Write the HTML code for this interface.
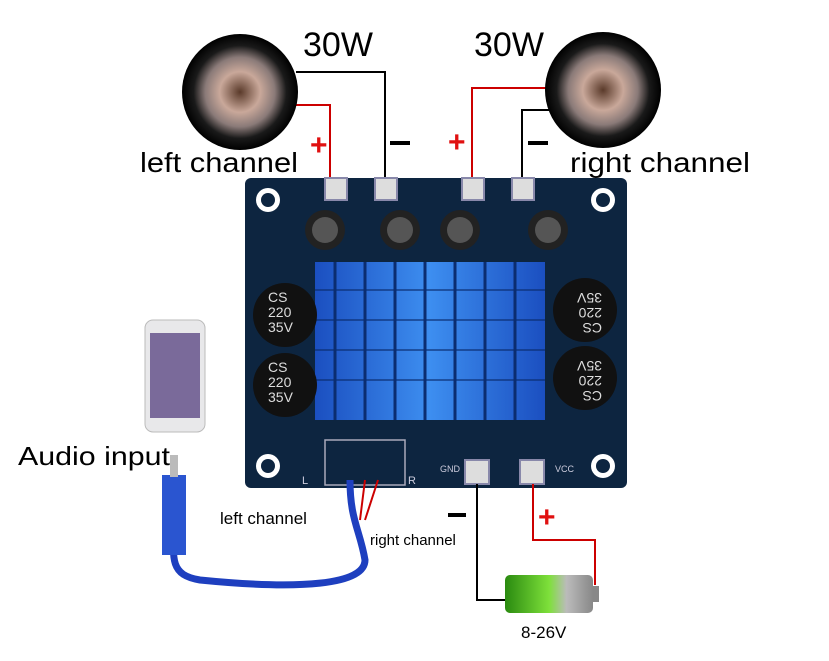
<!DOCTYPE html>
<html><head><meta charset="utf-8"><style>
html,body{margin:0;padding:0;background:#fff;}
svg{display:block;}
text{font-family:"Liberation Sans",sans-serif;}
</style></head><body>
<svg width="829" height="661" viewBox="0 0 829 661" xmlns="http://www.w3.org/2000/svg">
<defs>
<radialGradient id="spk" cx="50%" cy="50%" r="50%">
<stop offset="0" stop-color="#5a3a2a"/><stop offset="0.35" stop-color="#c9a89a"/><stop offset="0.6" stop-color="#8a7a78"/><stop offset="0.8" stop-color="#1a1a1a"/><stop offset="1" stop-color="#000"/>
</radialGradient>
<linearGradient id="hs" x1="0" x2="1"><stop offset="0" stop-color="#1b4fc0"/><stop offset="0.5" stop-color="#3d8ef0"/><stop offset="1" stop-color="#1b4fc0"/></linearGradient>
<linearGradient id="bat" x1="0" x2="1"><stop offset="0" stop-color="#2a8a10"/><stop offset="0.5" stop-color="#7ee03a"/><stop offset="0.7" stop-color="#bbb"/><stop offset="1" stop-color="#888"/></linearGradient>
</defs>
<polyline points="330,185 330,105 288,105" fill="none" stroke="#c00" stroke-width="2"/>
<polyline points="385,185 385,72 296,72" fill="none" stroke="#000" stroke-width="2"/>
<polyline points="472,185 472,88 548,88" fill="none" stroke="#c00" stroke-width="2"/>
<polyline points="522,185 522,110 560,110" fill="none" stroke="#000" stroke-width="2"/>
<circle cx="240" cy="92" r="58" fill="url(#spk)"/>
<circle cx="603" cy="90" r="58" fill="url(#spk)"/>
<text x="303" y="56" font-size="34">30W</text>
<text x="474" y="56" font-size="34">30W</text>
<text x="140" y="172" font-size="28" textLength="158" lengthAdjust="spacingAndGlyphs">left channel</text>
<text x="570" y="172" font-size="28" textLength="180" lengthAdjust="spacingAndGlyphs">right channel</text>
<text x="310" y="155" font-size="30" fill="#e01010" font-weight="bold">+</text>
<text x="448" y="152" font-size="30" fill="#e01010" font-weight="bold">+</text>
<rect x="390" y="141" width="20" height="4" fill="#000"/>
<rect x="528" y="141" width="20" height="4" fill="#000"/>
<rect x="245" y="178" width="382" height="310" rx="6" fill="#0d2540"/>
<g fill="#fff"><circle cx="268" cy="200" r="12"/><circle cx="603" cy="200" r="12"/><circle cx="268" cy="466" r="12"/><circle cx="603" cy="466" r="12"/></g>
<g fill="#0d2540"><circle cx="268" cy="200" r="7"/><circle cx="603" cy="200" r="7"/><circle cx="268" cy="466" r="7"/><circle cx="603" cy="466" r="7"/></g>
<g fill="#ddd" stroke="#88a" stroke-width="2"><rect x="325" y="178" width="22" height="22"/><rect x="375" y="178" width="22" height="22"/><rect x="462" y="178" width="22" height="22"/><rect x="512" y="178" width="22" height="22"/><rect x="465" y="460" width="24" height="24"/><rect x="520" y="460" width="24" height="24"/></g>
<g fill="#222"><circle cx="325" cy="230" r="20"/><circle cx="400" cy="230" r="20"/><circle cx="460" cy="230" r="20"/><circle cx="548" cy="230" r="20"/></g>
<g fill="#555"><circle cx="325" cy="230" r="13"/><circle cx="400" cy="230" r="13"/><circle cx="460" cy="230" r="13"/><circle cx="548" cy="230" r="13"/></g>
<rect x="315" y="262" width="230" height="158" fill="url(#hs)"/>
<g stroke="#0b2d70" stroke-width="3">
<line x1="335" y1="262" x2="335" y2="420"/><line x1="365" y1="262" x2="365" y2="420"/><line x1="395" y1="262" x2="395" y2="420"/><line x1="425" y1="262" x2="425" y2="420"/><line x1="455" y1="262" x2="455" y2="420"/><line x1="485" y1="262" x2="485" y2="420"/><line x1="515" y1="262" x2="515" y2="420"/>
</g>
<g stroke="#0b2d70" stroke-width="2" opacity="0.6">
<line x1="315" y1="290" x2="545" y2="290"/><line x1="315" y1="320" x2="545" y2="320"/><line x1="315" y1="350" x2="545" y2="350"/><line x1="315" y1="380" x2="545" y2="380"/>
</g>
<g fill="#111"><circle cx="285" cy="315" r="32"/><circle cx="285" cy="385" r="32"/><circle cx="585" cy="310" r="32"/><circle cx="585" cy="378" r="32"/></g>
<g fill="#ddd" font-size="14" font-family="Liberation Serif">
<text x="268" y="302">CS</text><text x="268" y="317">220</text><text x="268" y="332">35V</text>
<text x="268" y="372">CS</text><text x="268" y="387">220</text><text x="268" y="402">35V</text>
<g transform="rotate(180 585 310)"><text x="568" y="297">CS</text><text x="568" y="312">220</text><text x="568" y="327">35V</text></g>
<g transform="rotate(180 585 378)"><text x="568" y="365">CS</text><text x="568" y="380">220</text><text x="568" y="395">35V</text></g>
</g>
<rect x="325" y="440" width="80" height="45" fill="none" stroke="#aab" stroke-width="1.5"/>
<text x="302" y="484" font-size="11" fill="#ccd">L</text><text x="408" y="484" font-size="11" fill="#ccd">R</text>
<text x="440" y="472" font-size="9" fill="#ccd">GND</text><text x="555" y="472" font-size="9" fill="#ccd">VCC</text>
<polyline points="477,484 477,600 505,600" fill="none" stroke="#000" stroke-width="2"/>
<polyline points="533,484 533,540 595,540 595,585" fill="none" stroke="#c00" stroke-width="2"/>
<rect x="448" y="513" width="18" height="4" fill="#000"/>
<text x="538" y="527" font-size="30" fill="#e01010" font-weight="bold">+</text>
<rect x="505" y="575" width="88" height="38" rx="5" fill="url(#bat)"/>
<rect x="593" y="586" width="6" height="16" fill="#888"/>
<text x="521" y="638" font-size="17">8-26V</text>
<path d="M350,480 C350,520 360,530 365,560 C365,585 300,590 200,580 C170,575 172,560 175,520" fill="none" stroke="#1e3fbf" stroke-width="7"/>
<line x1="365" y1="480" x2="360" y2="520" stroke="#c00" stroke-width="2"/>
<line x1="378" y1="480" x2="365" y2="520" stroke="#c00" stroke-width="2"/>
<rect x="162" y="475" width="24" height="80" fill="#2a55d0"/>
<rect x="170" y="455" width="8" height="22" fill="#bbb"/>
<text x="18" y="465" font-size="26" textLength="152" lengthAdjust="spacingAndGlyphs">Audio input</text>
<text x="220" y="524" font-size="17">left channel</text>
<text x="370" y="545" font-size="15">right channel</text>
<rect x="145" y="320" width="60" height="112" rx="8" fill="#e8e8ea" stroke="#bbb"/>
<rect x="150" y="333" width="50" height="85" fill="#7a6a9a"/>
</svg>
</body></html>
